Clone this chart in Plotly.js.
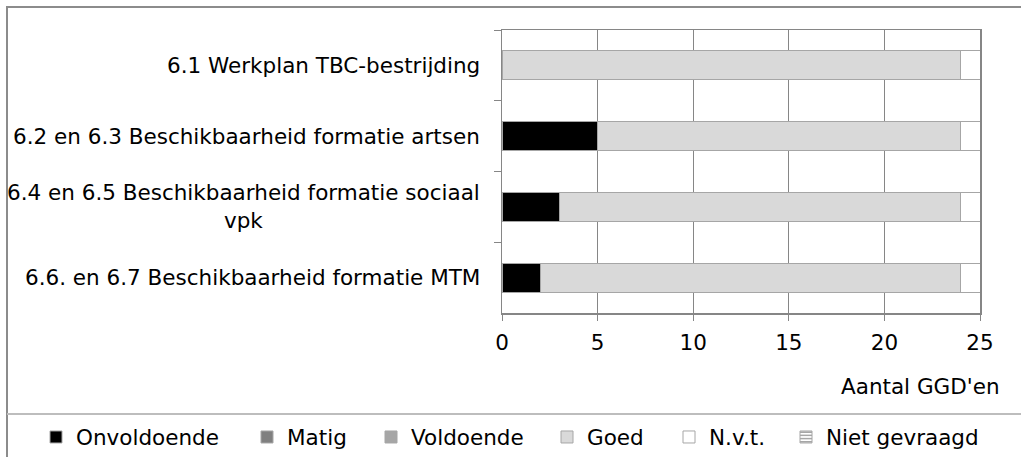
<!DOCTYPE html>
<html>
<head>
<meta charset="utf-8">
<script src="https://cdn.plot.ly/plotly-3.0.1.min.js"></script>
<style>html,body{margin:0;padding:0;background:#fff;}#chart{width:1021px;height:457px;}</style>
</head>
<body>
<div id="chart"></div>
<script>
// ---- data ----
var categories = [
  "6.1 Werkplan TBC-bestrijding",
  "6.2 en 6.3 Beschikbaarheid formatie artsen",
  "6.4 en 6.5 Beschikbaarheid formatie sociaal vpk",
  "6.6. en 6.7 Beschikbaarheid formatie MTM"
];
var categoryLabels = [
  "6.1 Werkplan TBC-bestrijding",
  "6.2 en 6.3 Beschikbaarheid formatie artsen",
  "6.4 en 6.5 Beschikbaarheid formatie sociaal<br>vpk",
  "6.6. en 6.7 Beschikbaarheid formatie MTM"
];
var seriesNames = ["Onvoldoende", "Matig", "Voldoende", "Goed", "N.v.t.", "Niet gevraagd"];
var onvoldoende  = [0, 5, 3, 2];
var matig        = [0, 0, 0, 0];
var voldoende    = [0, 0, 0, 0];
var goed         = [24, 19, 21, 22];
var nvt          = [1, 1, 1, 1];
var nietGevraagd = [0, 0, 0, 0];
var xTicks = [0, 5, 10, 15, 20, 25];
var xAxisTitle = "Aantal GGD'en";

// ---- layout helpers ----
var W = 1021, H = 457;
var M = {l: 502, r: 41, t: 30, b: 144, autoexpand: false};
var PW = W - M.l - M.r, PH = H - M.t - M.b;
function px(x) { return (x - M.l) / PW; }
function py(y) { return (H - M.b - y) / PH; }

var FONT = "DejaVu Sans, Verdana, sans-serif";
var FS = 21.5;
var outline = {color: "#a6a6a6", width: 1};
var values = [onvoldoende, matig, voldoende, goed, nvt, nietGevraagd];
var colors = ["#000000", "#808080", "#a6a6a6", "#d9d9d9", "#ffffff", "#ffffff"];
// left edge (px) of each legend entry's symbol
var legendSymbolLeft = [57, 268, 392, 568, 690, 807];

var traces = seriesNames.map(function (name, i) {
  var marker = {color: colors[i], line: outline};
  if (name === "Niet gevraagd") {
    marker.pattern = {shape: "-", fgcolor: "#909090", bgcolor: "#ffffff", size: 4, solidity: 0.4};
  }
  return {
    type: "bar", orientation: "h", name: name,
    y: categories, x: values[i], marker: marker,
    legend: i === 0 ? "legend" : "legend" + (i + 1),
    hoverinfo: "x+name"
  };
});

var annotations = categories.map(function (c, i) {
  return {
    xref: "paper", yref: "y", x: 0, y: c, xanchor: "right", yanchor: "middle",
    xshift: -20, text: categoryLabels[i], showarrow: false, align: "center",
    font: {family: FONT, size: FS, color: "#000"}
  };
});
annotations.push({
  xref: "paper", yref: "paper", x: px(1002), y: py(386), xanchor: "right", yanchor: "middle",
  text: xAxisTitle, showarrow: false, font: {family: FONT, size: FS, color: "#000"}
});

var shapes = [
  {type: "rect", xref: "paper", yref: "paper", x0: px(7), x1: px(1040), y0: py(7), y1: py(480),
   line: {color: "#8c8c8c", width: 2}, fillcolor: "rgba(0,0,0,0)", layer: "below"},
  {type: "line", xref: "paper", yref: "paper", x0: px(7), x1: px(1040), y0: py(414), y1: py(414),
   line: {color: "#bdbdbd", width: 2}, layer: "below"}
];

var layout = {
  width: W, height: H,
  margin: M,
  paper_bgcolor: "#ffffff", plot_bgcolor: "#ffffff",
  barmode: "stack", bargap: 0.59,
  font: {family: FONT, size: FS, color: "#000"},
  showlegend: true,
  xaxis: {
    range: [0, 25], tickvals: xTicks, ticks: "outside", ticklen: 6, tickcolor: "#868686",
    showgrid: true, gridcolor: "#868686", gridwidth: 1,
    showline: true, linecolor: "#868686", linewidth: 1.5, mirror: true,
    zeroline: false, ticklabelstandoff: 4,
    tickfont: {family: FONT, size: FS, color: "#000"}, fixedrange: true
  },
  yaxis: {
    type: "category", categoryorder: "array", categoryarray: categories,
    autorange: "reversed", tickson: "boundaries", ticks: "outside", ticklen: 7,
    tickcolor: "#868686", showticklabels: false, showgrid: false,
    showline: true, linecolor: "#868686", linewidth: 1.5, mirror: true, zeroline: false,
    fixedrange: true
  },
  annotations: annotations,
  shapes: shapes
};
legendSymbolLeft.forEach(function (s, i) {
  layout[i === 0 ? "legend" : "legend" + (i + 1)] = {
    orientation: "h", x: px(s - 21), xanchor: "left", y: py(437), yanchor: "middle",
    font: {family: FONT, size: FS, color: "#000"}, bgcolor: "rgba(0,0,0,0)", borderwidth: 0
  };
});

Plotly.newPlot("chart", traces, layout, {displayModeBar: false, staticPlot: true});
</script>
</body>
</html>
